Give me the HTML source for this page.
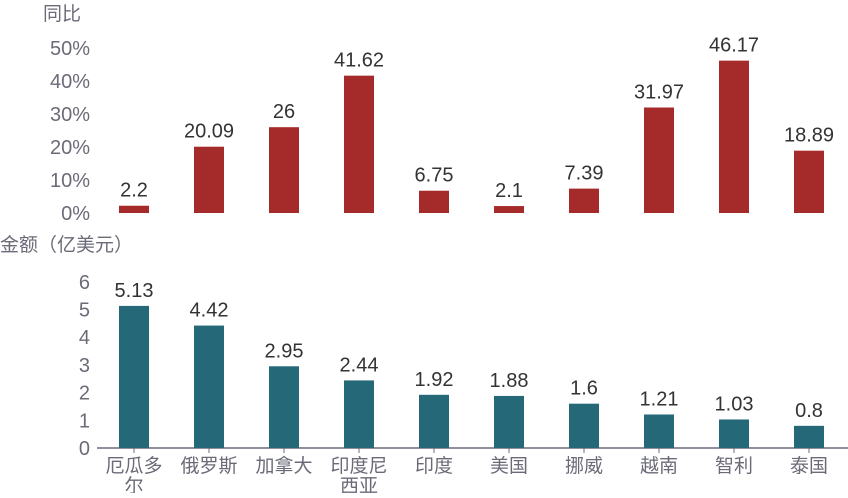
<!DOCTYPE html>
<html><head><meta charset="utf-8"><style>
body{margin:0;background:#fff;}
svg text{font-family:"Liberation Sans","Noto Sans CJK SC",sans-serif;}
</style></head><body>
<svg id="c" width="848" height="493">
<text x="43" y="20" font-size="19" fill="#6b6b78">同比</text>
<text x="0" y="251" font-size="19" fill="#6b6b78">金额（亿美元）</text>
<line x1="97" y1="448" x2="848" y2="448" stroke="#6b6b78" stroke-width="1.5"/>
</svg>
<script>
const categories=["厄瓜多尔","俄罗斯","加拿大","印度尼西亚","印度","美国","挪威","越南","智利","泰国"];
const catLines=[["厄瓜多","尔"],["俄罗斯"],["加拿大"],["印度尼","西亚"],["印度"],["美国"],["挪威"],["越南"],["智利"],["泰国"]];
const yoyValues=[2.2,20.09,26,41.62,6.75,2.1,7.39,31.97,46.17,18.89];
const amountValues=[5.13,4.42,2.95,2.44,1.92,1.88,1.6,1.21,1.03,0.8];
const yoyTicks=[0,10,20,30,40,50];
const amountTicks=[0,1,2,3,4,5,6];
const svg=document.getElementById('c');
const NS='http://www.w3.org/2000/svg';
function mk(t,a){const e=document.createElementNS(NS,t);for(const k in a)e.setAttribute(k,a[k]);svg.appendChild(e);return e;}
const xC=i=>134+i*75;
const yTop=v=>213-v*3.3;
const yBot=v=>448-v*27.7;
yoyTicks.forEach(t=>{const e=mk('text',{x:90,y:yTop(t)+7,'font-size':20,fill:'#6b6b78','text-anchor':'end'});e.textContent=t+'%';

});
amountTicks.forEach(t=>{const e=mk('text',{x:90,y:yBot(t)+7,'font-size':20,fill:'#6b6b78','text-anchor':'end'});e.textContent=t;

});
categories.forEach((c,i)=>{
 const x=xC(i);
 const b1=mk('rect',{x:x-15,y:yTop(yoyValues[i]),width:30,height:yoyValues[i]*3.3,fill:'#a52a2a'});
 
 
 const l1=mk('text',{x:x,y:yTop(yoyValues[i])-9,'font-size':20,fill:'#333','text-anchor':'middle'});l1.textContent=yoyValues[i];
 
 
 const b2=mk('rect',{x:x-15,y:yBot(amountValues[i]),width:30,height:amountValues[i]*27.7,fill:'#256878'});
 
 
 const l2=mk('text',{x:x,y:yBot(amountValues[i])-9,'font-size':20,fill:'#333','text-anchor':'middle'});l2.textContent=amountValues[i];
 
 
 const tk=mk('line',{x1:x,y1:448,x2:x,y2:453,stroke:'#6b6b78','stroke-width':1});
 
 
 catLines[i].forEach((s,j)=>{const t=mk('text',{x:x,y:472+j*20,'font-size':19,fill:'#6b6b78','text-anchor':'middle'});t.textContent=s;
 
 });
});
</script>
</body></html>
